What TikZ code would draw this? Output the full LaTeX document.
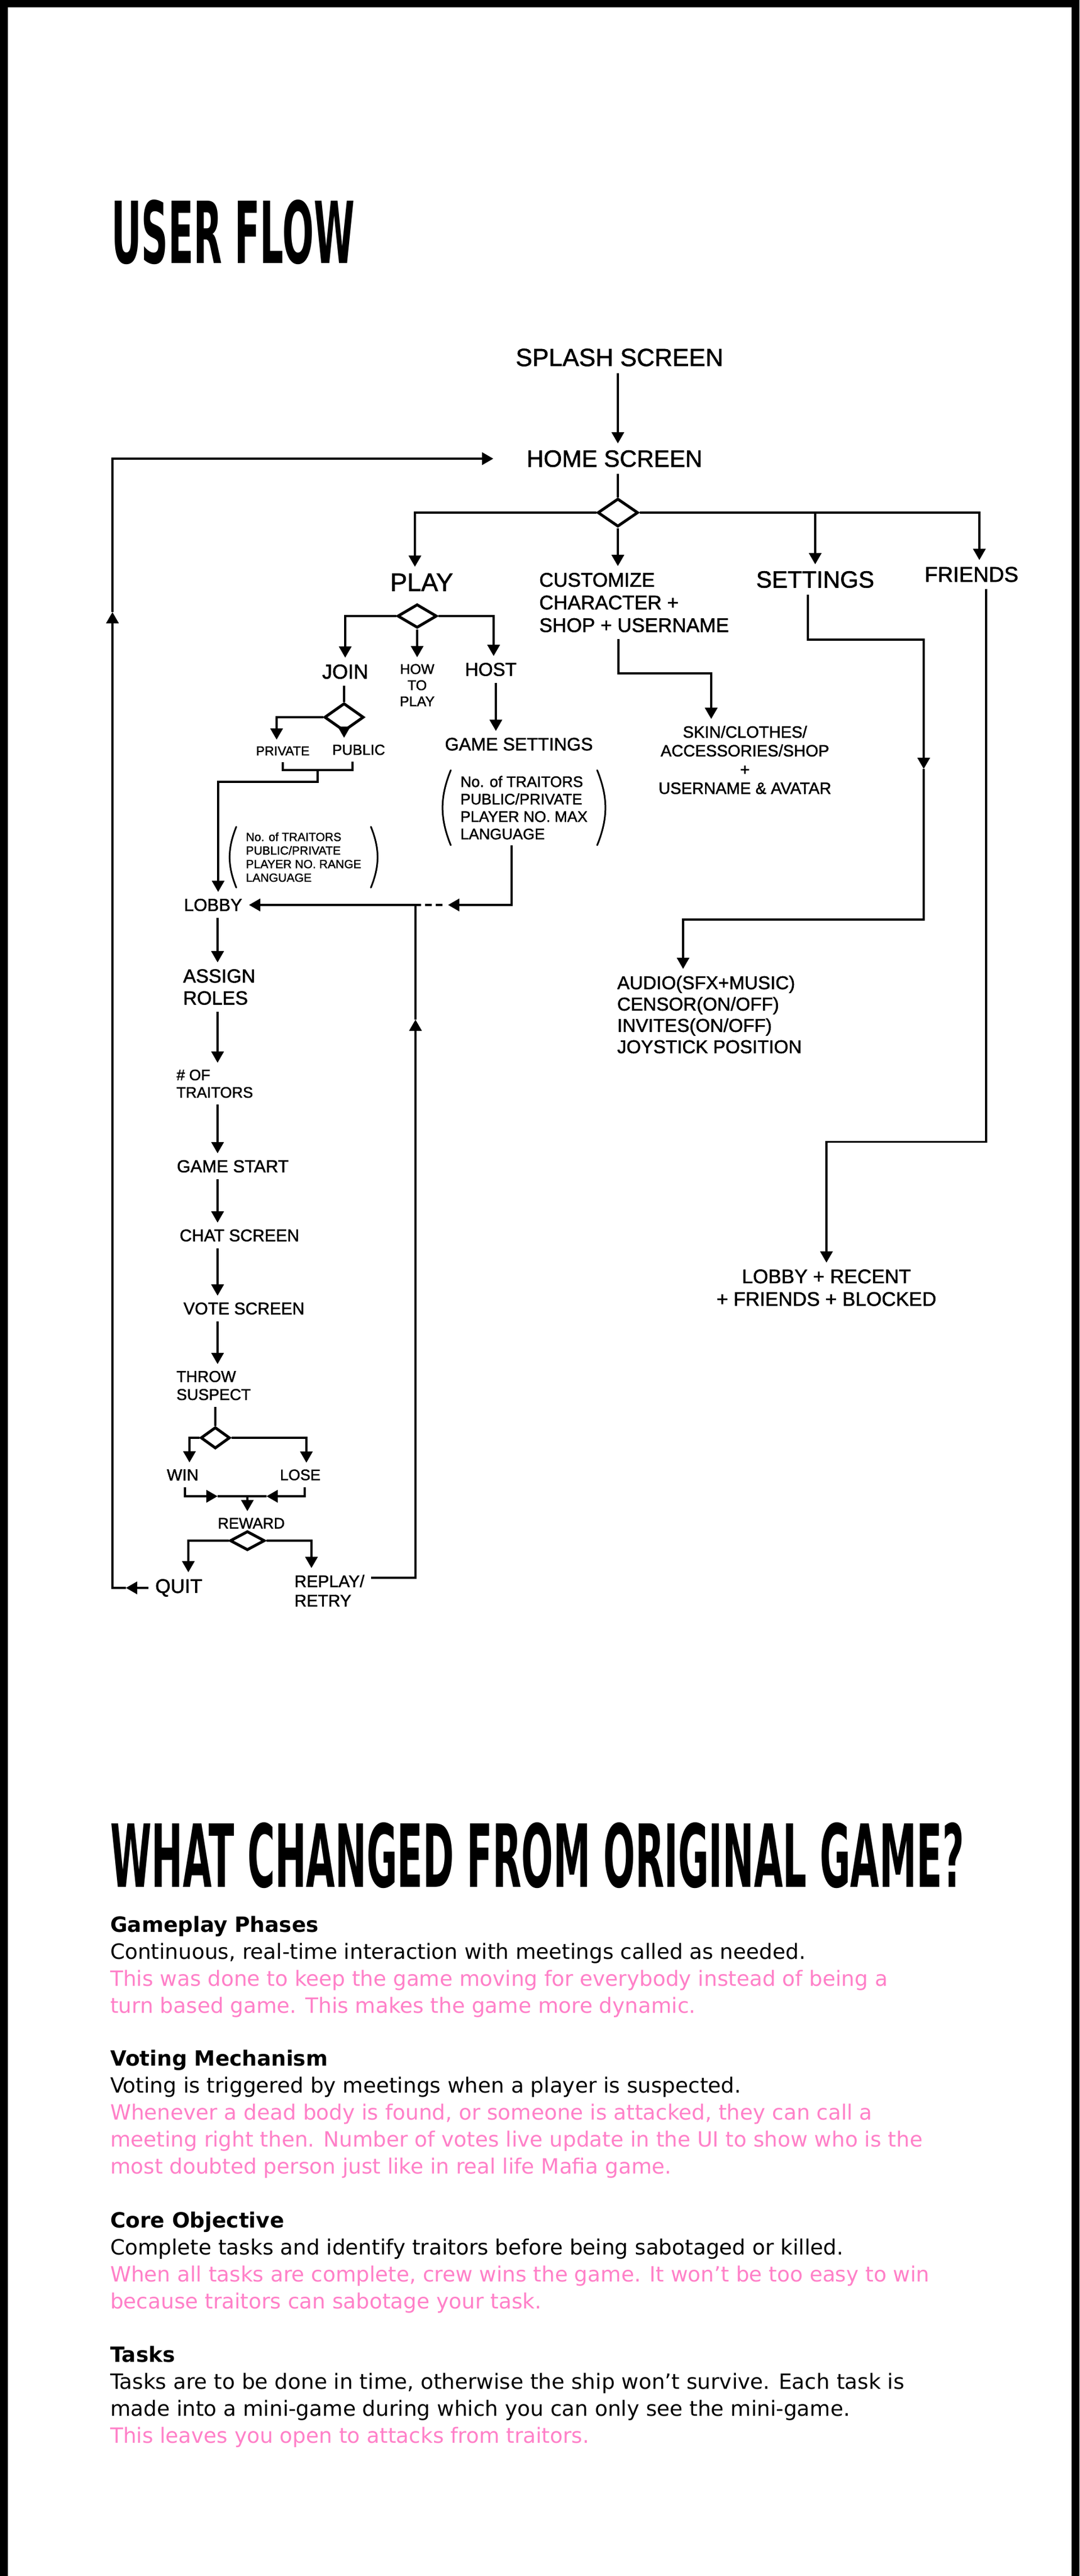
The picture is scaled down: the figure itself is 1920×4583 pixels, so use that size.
\documentclass[tikz,border=0pt]{standalone}
\usepackage{fontspec}
\usepackage{xcolor}
\usepackage{graphicx}
\usepackage{tikz}
\usetikzlibrary{arrows.meta,shapes.geometric}
\newfontfamily\sketchfont{Liberation Sans}[FakeBold=1.5]
\newfontfamily\titlefont{DejaVu Sans}
\newfontfamily\bodyfont{DejaVu Sans}
\definecolor{pinktext}{HTML}{FF80C8}

\begin{document}
\begin{tikzpicture}[x=1pt,y=-1pt,
    lbl/.style={font=\sketchfont\pgfmathsetmacro\lblskip{1.15*#1}\fontsize{#1}{\lblskip}\selectfont, inner sep=12pt, align=center},
    notebox/.style={lbl=#1, align=left, inner xsep=17pt, inner ysep=10pt},
    choice/.style={diamond, draw, line width=5pt, inner sep=0pt},
    link/.style={line width=3.5pt},
    flow/.style={link, -{Triangle[length=20pt,width=22pt]}},
    paren/.style={line width=3pt, line cap=round},
    bodytext/.style={font=\bodyfont\fontsize{37.4}{47.8}\selectfont, anchor=base west, align=left, inner sep=0pt}]
    \useasboundingbox (0,0) rectangle (1920,4583);
    \fill[white] (0,0) rectangle (1920,4583);
    \fill (0,0) rectangle (14,4583);
    \fill (1906,0) rectangle (1920,4583);
    \fill (0,0) rectangle (1920,13);

    \node[anchor=north west, inner sep=0pt] (flowtitle) at (198,355) {\resizebox{433pt}{113pt}{\titlefont\bfseries USER FLOW}};

    \node[lbl=44] (splash) at (1102,636) {SPLASH SCREEN};
    \node[lbl=42] (home) at (1093,816) {HOME SCREEN};
    \node[choice, minimum width=72pt, minimum height=50pt] (homechoice) at (1099,912) {};
    \node[lbl=45] (play) at (750,1036) {PLAY};
    \node[lbl=35, align=left, anchor=west] (custom) at (947,1072) {CUSTOMIZE\\CHARACTER +\\SHOP + USERNAME};
    \node[lbl=42] (settings) at (1450,1031) {SETTINGS};
    \node[lbl=38] (friends) at (1728,1022) {FRIENDS};
    \node[choice, minimum width=70pt, minimum height=42pt] (playchoice) at (742,1096) {};
    \node[lbl=36] (join) at (614,1195) {JOIN};
    \node[lbl=25] (howto) at (742,1219) {HOW\\TO\\PLAY};
    \node[lbl=33] (host) at (873,1191) {HOST};
    \node[choice, minimum width=70pt, minimum height=50pt] (joinchoice) at (612,1276) {};
    \node[lbl=23] (private) at (503,1336) {PRIVATE};
    \node[lbl=26] (public) at (638,1334) {PUBLIC};
    \node[notebox=21] (lobbynote) at (540,1525) {No. of TRAITORS\\PUBLIC/PRIVATE\\PLAYER NO. RANGE\\LANGUAGE};
    \node[lbl=32] (gamesetting) at (923,1324) {GAME SETTINGS};
    \node[notebox=27] (gsnote) at (932,1437) {No. of TRAITORS\\PUBLIC/PRIVATE\\PLAYER NO. MAX\\LANGUAGE};
    \node[lbl=31] (lobby) at (379,1610) {LOBBY};
    \node[lbl=34, align=left] (assign) at (390,1756) {ASSIGN\\ROLES};
    \node[lbl=27, align=left] (traitors) at (382,1928) {\# OF\\TRAITORS};
    \node[lbl=31] (gamestart) at (414,2075) {GAME START};
    \node[lbl=30] (chat) at (426,2198) {CHAT SCREEN};
    \node[lbl=30] (vote) at (434,2328) {VOTE SCREEN};
    \node[lbl=28, align=left] (throw) at (380,2465) {THROW\\SUSPECT};
    \node[choice, minimum width=52pt, minimum height=38pt] (wlchoice) at (383,2558) {};
    \node[lbl=29] (win) at (325,2624) {WIN};
    \node[lbl=27] (lose) at (534,2624) {LOSE};
    \node[lbl=27] (reward) at (447,2710) {REWARD};
    \node[choice, minimum width=62pt, minimum height=34pt] (rewardchoice) at (440,2741) {};
    \node[lbl=35] (quit) at (318,2825) {QUIT};
    \node[lbl=30, align=left] (replay) at (586,2830) {REPLAY/\\RETRY};
    \node[lbl=29] (skin) at (1325,1352) {SKIN/CLOTHES/\\ACCESSORIES/SHOP\\+\\USERNAME \& AVATAR};
    \node[lbl=33, align=left] (setdetail) at (1262,1805) {AUDIO(SFX+MUSIC)\\CENSOR(ON/OFF)\\INVITES(ON/OFF)\\JOYSTICK POSITION};
    \node[lbl=35] (friendsdetail) at (1470,2291) {LOBBY + RECENT\\+ FRIENDS + BLOCKED};

    \coordinate (spine) at (387,0);
    \coordinate (merge) at (739,1610);
    \coordinate (gsin) at (797,1610);
    \coordinate (replayup) at (739,1814);
    \coordinate (quitin) at (224,2825);
    \coordinate (loopup) at (200,1089);
    \coordinate (wlmerge) at (440,2662);
    \coordinate (joinmerge) at (565,1370);
    \coordinate (setmid) at (1643,1368);

    \draw[flow] (splash.south -| homechoice.north) -- (home.north -| homechoice.north);
    \draw[link] (home.south -| homechoice.north) -- (homechoice.north);
    \draw[flow] (homechoice.west) -| ([xshift=-12pt]play.north);
    \draw[flow] (homechoice.south) -- (homechoice.south |- custom.north);
    \draw[flow] (homechoice.east) -| (settings.north);
    \draw[flow] (homechoice.east) -| ([xshift=14pt]friends.north);

    \draw[flow] (playchoice.west) -| (join.north);
    \draw[flow] (playchoice.south) -- (howto.north);
    \draw[flow] (playchoice.east) -| ([xshift=5pt]host.north);
    \draw[link] (join.south -| joinchoice.north) -- (joinchoice.north);
    \draw[flow] (joinchoice.west) -| ([xshift=-11pt]private.north);
    \draw[flow] (joinchoice.south) -- (joinchoice.south |- public.north);
    \draw[link] (private.south) -- ++(0,14) -| ([xshift=-11pt]public.south);
    \draw[flow] (joinmerge) -- ++(0,21) -| ([xshift=9pt]lobby.north);
    \draw[flow] ([xshift=9pt]host.south) -- ([xshift=9pt]host.south |- gamesetting.north);
    \draw[flow] ([xshift=-22pt]gsnote.south) |- (gsin);
    \draw[link, dash pattern=on 12pt off 7pt, shorten <=10pt] (gsin) -- (merge);
    \draw[flow] (merge) -- (lobby.east);
    \draw[paren] (lobbynote.north west) to[bend right=22] (lobbynote.south west);
    \draw[paren] (lobbynote.north east) to[bend left=22] (lobbynote.south east);
    \draw[paren] (gsnote.north west) to[bend right=22] (gsnote.south west);
    \draw[paren] (gsnote.north east) to[bend left=22] (gsnote.south east);

    \draw[flow] (spine |- lobby.south) -- (spine |- assign.north);
    \draw[flow] (spine |- assign.south) -- (spine |- traitors.north);
    \draw[flow] (spine |- traitors.south) -- (spine |- gamestart.north);
    \draw[flow] (spine |- gamestart.south) -- (spine |- chat.north);
    \draw[flow] (spine |- chat.south) -- (spine |- vote.north);
    \draw[flow] (spine |- vote.south) -- (spine |- throw.north);
    \draw[link] (wlchoice.north |- throw.south) -- (wlchoice.north);
    \draw[flow] (wlchoice.west) -| ([xshift=12pt]win.north);
    \draw[flow] (wlchoice.east) -| ([xshift=11pt]lose.north);
    \draw[link] ([xshift=-53pt]wlmerge) -- ([xshift=34pt]wlmerge);
    \draw[flow] ([xshift=4pt]win.south) |- ([xshift=-53pt]wlmerge);
    \draw[flow] ([xshift=8pt]lose.south) |- ([xshift=34pt]wlmerge);
    \draw[flow] (wlmerge) -- (wlmerge |- reward.north);
    \draw[flow] (rewardchoice.west) -| ([xshift=17pt]quit.north);
    \draw[flow] (rewardchoice.east) -| ([xshift=-32pt]replay.north);
    \draw[flow] ([yshift=23pt]replay.east) -| (replayup);
    \draw[link] (replayup) -- (merge);
    \draw[flow] (quit.west) -- (quitin);
    \draw[flow] (quitin) -| (loopup);
    \draw[flow] (loopup) |- ([xshift=-47pt]home.west);

    \draw[flow] ([xshift=-28pt]custom.south) -- ++(0,61) -| ([xshift=-60pt]skin.north);
    \draw[flow] ([xshift=-13pt]settings.south) -- ++(0,80) -| (setmid);
    \draw[flow] (setmid) -- ++(0,268) -| ([xshift=-47pt]setdetail.north);
    \draw[flow] ([xshift=26pt]friends.south) -- ++(0,984) -| (friendsdetail.north);

    \node[anchor=north west, inner sep=0pt] (changetitle) at (196,3242) {\resizebox{1518pt}{115pt}{\titlefont\bfseries WHAT CHANGED FROM ORIGINAL GAME?}};
    \node[bodytext] (phases) at (196,3581) {\textbf{Gameplay Phases}\\Continuous, real-time interaction with meetings called as needed.\\\textcolor{pinktext}{This was done to keep the game moving for everybody instead of being a}\\\textcolor{pinktext}{turn based game. This makes the game more dynamic.}};
    \node[bodytext] (voting) at (196,3867) {\textbf{Voting Mechanism}\\Voting is triggered by meetings when a player is suspected.\\\textcolor{pinktext}{Whenever a dead body is found, or someone is attacked, they can call a}\\\textcolor{pinktext}{meeting right then. Number of votes live update in the UI to show who is the}\\\textcolor{pinktext}{most doubted person just like in real life Mafia game.}};
    \node[bodytext] (objective) at (196,4107) {\textbf{Core Objective}\\Complete tasks and identify traitors before being sabotaged or killed.\\\textcolor{pinktext}{When all tasks are complete, crew wins the game. It won’t be too easy to win}\\\textcolor{pinktext}{because traitors can sabotage your task.}};
    \node[bodytext] (tasks) at (196,4346) {\textbf{Tasks}\\Tasks are to be done in time, otherwise the ship won’t survive. Each task is\\made into a mini-game during which you can only see the mini-game.\\\textcolor{pinktext}{This leaves you open to attacks from traitors.}};
\end{tikzpicture}
\end{document}
